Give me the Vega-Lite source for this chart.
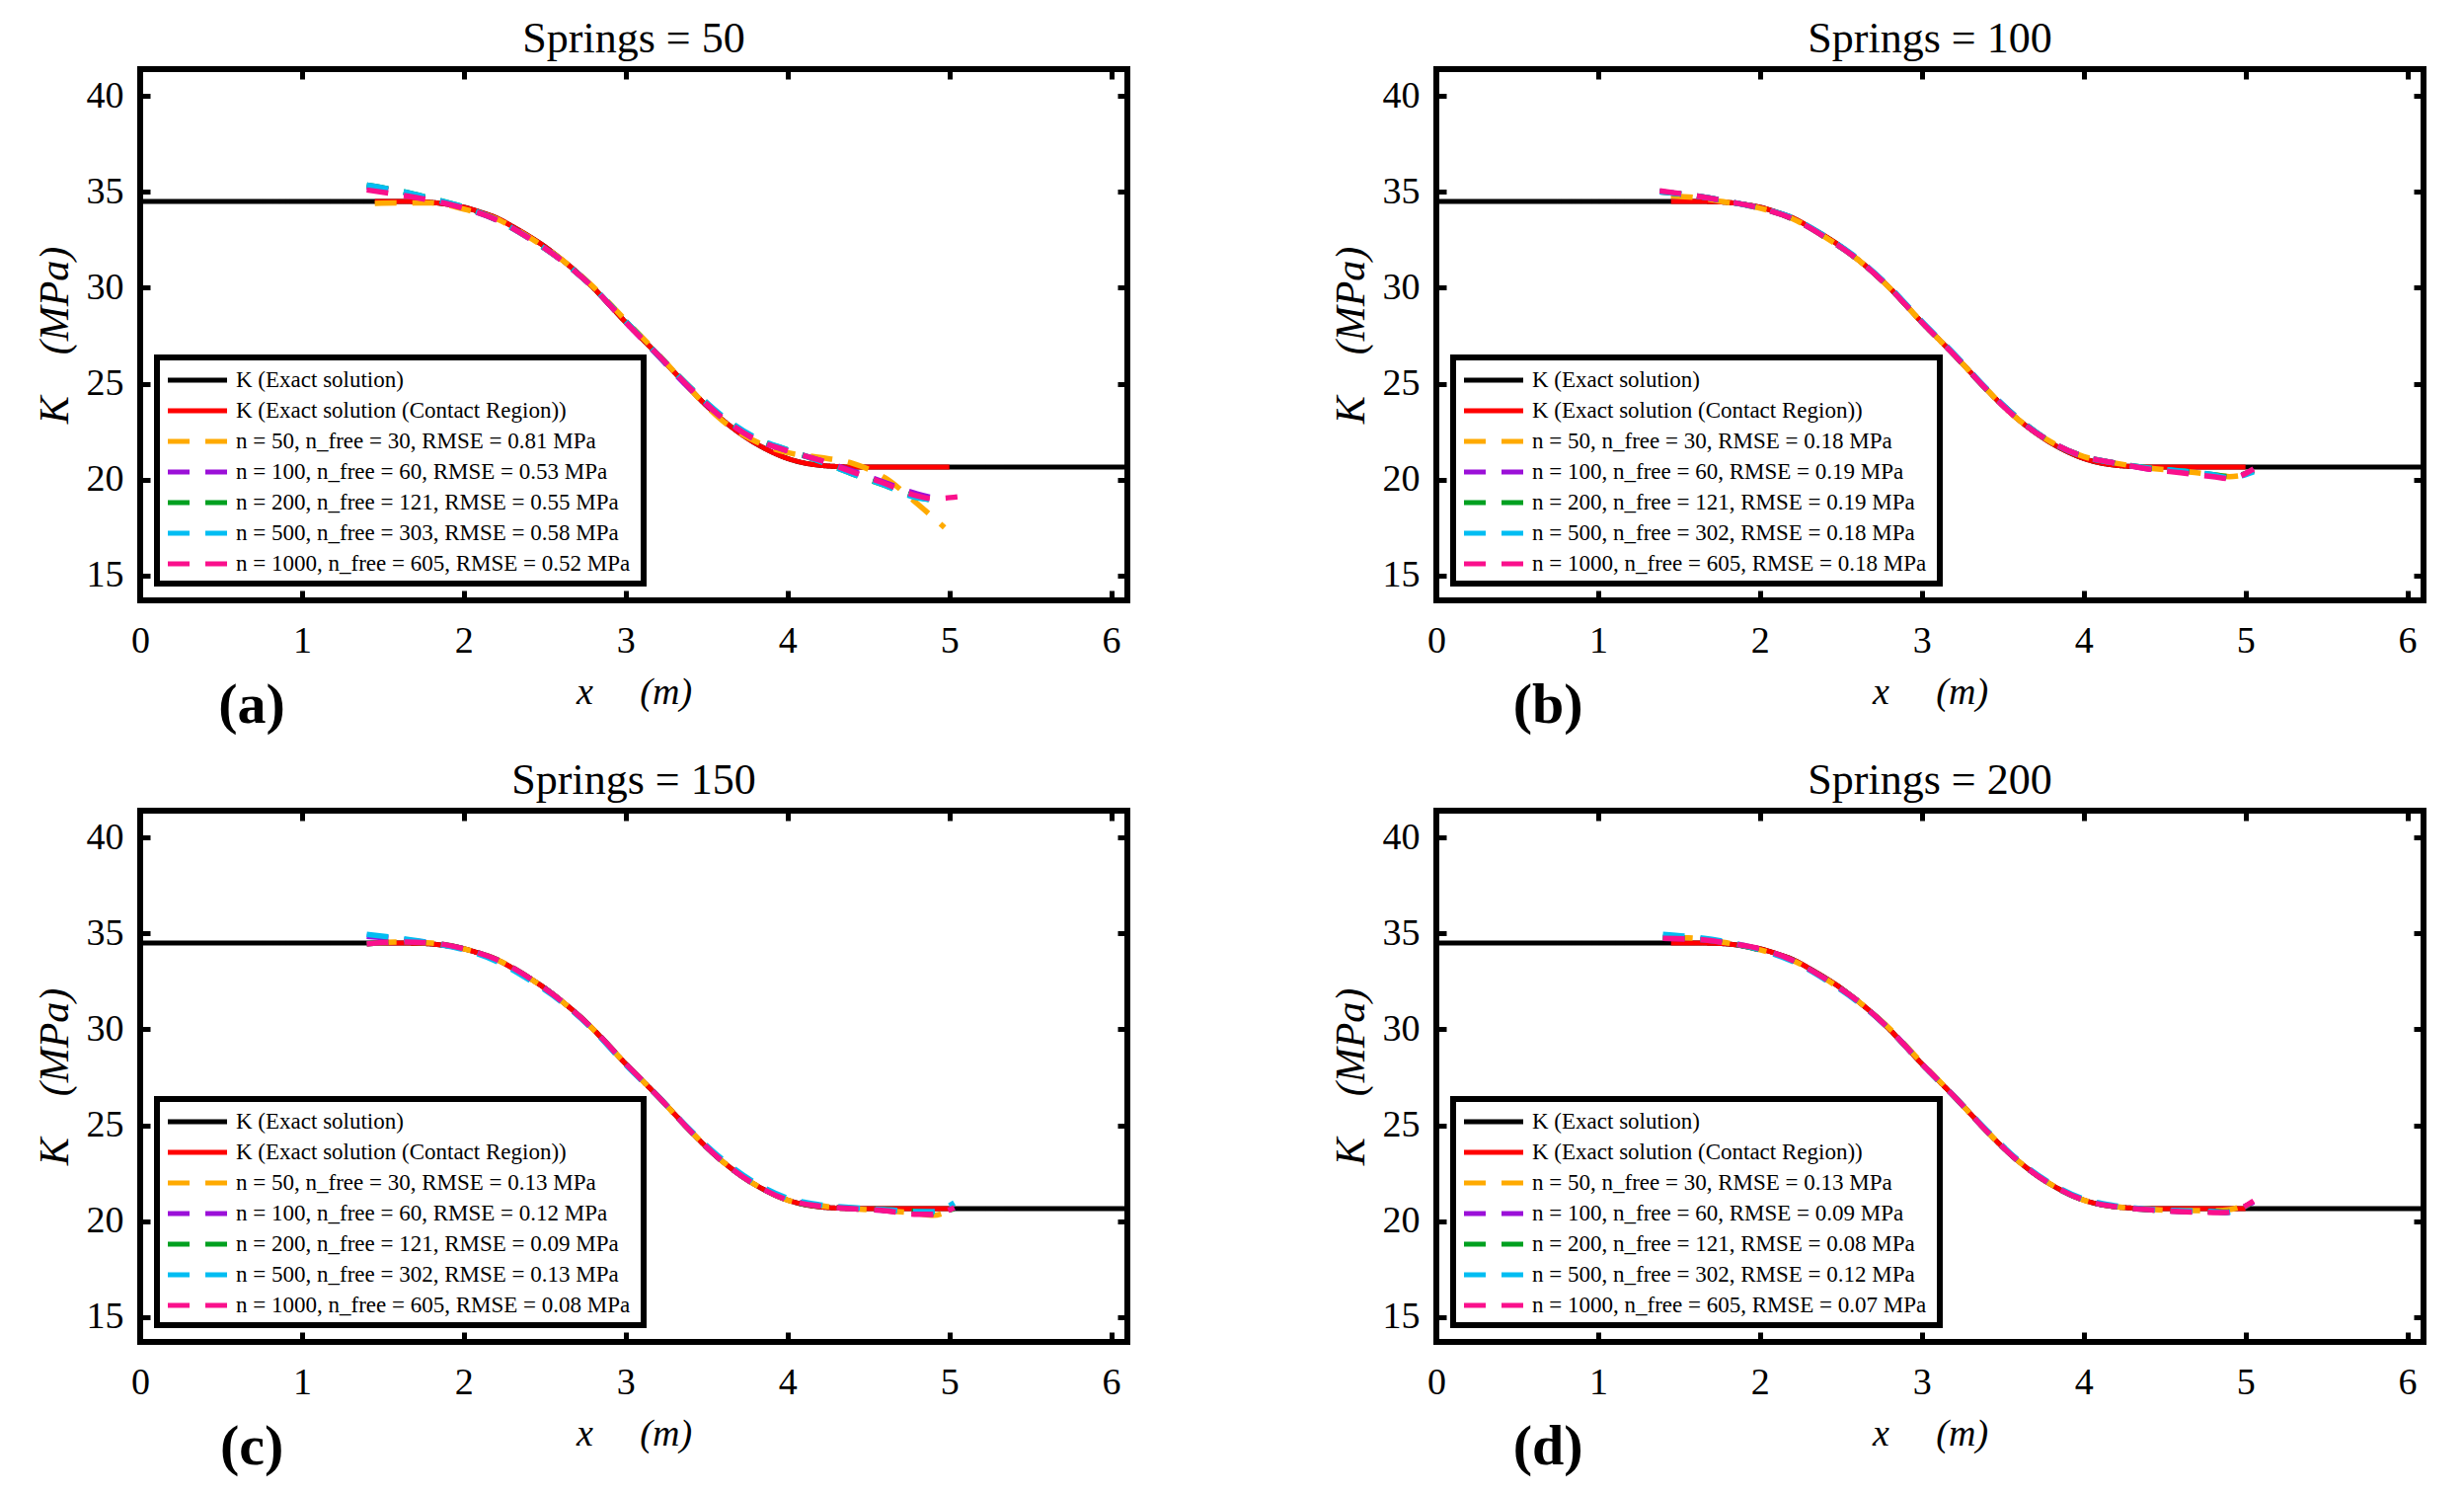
{
  "$schema": "https://vega.github.io/schema/vega-lite/v6.json",
  "background": "white",
  "padding": {"left": 31, "top": 14, "right": 30, "bottom": 10},
  "columns": 2,
  "spacing": {"row": 18, "column": 189},
  "resolve": {"scale": {"color": "independent", "strokeDash": "independent"}},
  "datasets": {
    "ex": [
      {"s": "exact", "x": 0, "k": 34.5}, {"s": "exact", "x": 1.6, "k": 34.5}, {"s": "exact", "x": 1.7, "k": 34.49},
      {"s": "exact", "x": 1.8, "k": 34.45}, {"s": "exact", "x": 1.9, "k": 34.35}, {"s": "exact", "x": 2.0, "k": 34.2},
      {"s": "exact", "x": 2.1, "k": 33.95}, {"s": "exact", "x": 2.2, "k": 33.65}, {"s": "exact", "x": 2.3, "k": 33.2},
      {"s": "exact", "x": 2.4, "k": 32.7}, {"s": "exact", "x": 2.5, "k": 32.15}, {"s": "exact", "x": 2.6, "k": 31.5},
      {"s": "exact", "x": 2.7, "k": 30.8}, {"s": "exact", "x": 2.8, "k": 30.0}, {"s": "exact", "x": 2.9, "k": 29.1},
      {"s": "exact", "x": 3.0, "k": 28.2}, {"s": "exact", "x": 3.1, "k": 27.35}, {"s": "exact", "x": 3.2, "k": 26.5},
      {"s": "exact", "x": 3.3, "k": 25.6}, {"s": "exact", "x": 3.4, "k": 24.7}, {"s": "exact", "x": 3.5, "k": 23.85},
      {"s": "exact", "x": 3.6, "k": 23.1}, {"s": "exact", "x": 3.7, "k": 22.45}, {"s": "exact", "x": 3.8, "k": 21.9},
      {"s": "exact", "x": 3.9, "k": 21.45}, {"s": "exact", "x": 4.0, "k": 21.1}, {"s": "exact", "x": 4.1, "k": 20.87},
      {"s": "exact", "x": 4.2, "k": 20.74}, {"s": "exact", "x": 4.3, "k": 20.68}, {"s": "exact", "x": 4.4, "k": 20.65},
      {"s": "exact", "x": 4.6, "k": 20.65}, {"s": "exact", "x": 6.1, "k": 20.65},
      {"s": "contact", "x": 1.45, "k": 34.5}, {"s": "contact", "x": 1.6, "k": 34.5}, {"s": "contact", "x": 1.7, "k": 34.49},
      {"s": "contact", "x": 1.8, "k": 34.45}, {"s": "contact", "x": 1.9, "k": 34.35}, {"s": "contact", "x": 2.0, "k": 34.2},
      {"s": "contact", "x": 2.1, "k": 33.95}, {"s": "contact", "x": 2.2, "k": 33.65}, {"s": "contact", "x": 2.3, "k": 33.2},
      {"s": "contact", "x": 2.4, "k": 32.7}, {"s": "contact", "x": 2.5, "k": 32.15}, {"s": "contact", "x": 2.6, "k": 31.5},
      {"s": "contact", "x": 2.7, "k": 30.8}, {"s": "contact", "x": 2.8, "k": 30.0}, {"s": "contact", "x": 2.9, "k": 29.1},
      {"s": "contact", "x": 3.0, "k": 28.2}, {"s": "contact", "x": 3.1, "k": 27.35}, {"s": "contact", "x": 3.2, "k": 26.5},
      {"s": "contact", "x": 3.3, "k": 25.6}, {"s": "contact", "x": 3.4, "k": 24.7}, {"s": "contact", "x": 3.5, "k": 23.85},
      {"s": "contact", "x": 3.6, "k": 23.1}, {"s": "contact", "x": 3.7, "k": 22.45}, {"s": "contact", "x": 3.8, "k": 21.9},
      {"s": "contact", "x": 3.9, "k": 21.45}, {"s": "contact", "x": 4.0, "k": 21.1}, {"s": "contact", "x": 4.1, "k": 20.87},
      {"s": "contact", "x": 4.2, "k": 20.74}, {"s": "contact", "x": 4.3, "k": 20.68}, {"s": "contact", "x": 4.4, "k": 20.65},
      {"s": "contact", "x": 4.6, "k": 20.65}, {"s": "contact", "x": 5.0, "k": 20.65}
    ],
    "a": [
      {"s": "n50", "x": 1.45, "k": 34.4}, {"s": "n50", "x": 1.6, "k": 34.42}, {"s": "n50", "x": 1.8, "k": 34.42}, {"s": "n50", "x": 2.0, "k": 34.1},
      {"s": "n50", "x": 2.2, "k": 33.6}, {"s": "n50", "x": 2.4, "k": 32.65}, {"s": "n50", "x": 2.6, "k": 31.5}, {"s": "n50", "x": 2.8, "k": 30.05},
      {"s": "n50", "x": 3.0, "k": 28.3}, {"s": "n50", "x": 3.2, "k": 26.55}, {"s": "n50", "x": 3.4, "k": 24.7}, {"s": "n50", "x": 3.6, "k": 23.05},
      {"s": "n50", "x": 3.8, "k": 22.0}, {"s": "n50", "x": 4.0, "k": 21.4}, {"s": "n50", "x": 4.2, "k": 21.15}, {"s": "n50", "x": 4.4, "k": 20.85},
      {"s": "n50", "x": 4.6, "k": 20.1}, {"s": "n50", "x": 4.8, "k": 18.75}, {"s": "n50", "x": 4.97, "k": 17.5},
      {"s": "n100", "x": 1.4, "k": 35.25}, {"s": "n100", "x": 1.6, "k": 35.0}, {"s": "n100", "x": 1.8, "k": 34.6}, {"s": "n100", "x": 2.0, "k": 34.15},
      {"s": "n100", "x": 2.2, "k": 33.55}, {"s": "n100", "x": 2.4, "k": 32.6}, {"s": "n100", "x": 2.6, "k": 31.45}, {"s": "n100", "x": 2.8, "k": 30.0},
      {"s": "n100", "x": 3.0, "k": 28.2}, {"s": "n100", "x": 3.2, "k": 26.45}, {"s": "n100", "x": 3.4, "k": 24.7}, {"s": "n100", "x": 3.6, "k": 23.2},
      {"s": "n100", "x": 3.8, "k": 22.1}, {"s": "n100", "x": 4.0, "k": 21.5}, {"s": "n100", "x": 4.2, "k": 21.0}, {"s": "n100", "x": 4.4, "k": 20.45},
      {"s": "n100", "x": 4.6, "k": 19.85}, {"s": "n100", "x": 4.8, "k": 19.25}, {"s": "n100", "x": 4.9, "k": 19.05},
      {"s": "n200", "x": 1.4, "k": 35.35}, {"s": "n200", "x": 1.6, "k": 35.05}, {"s": "n200", "x": 1.8, "k": 34.65}, {"s": "n200", "x": 2.0, "k": 34.2},
      {"s": "n200", "x": 2.2, "k": 33.55}, {"s": "n200", "x": 2.4, "k": 32.6}, {"s": "n200", "x": 2.6, "k": 31.45}, {"s": "n200", "x": 2.8, "k": 30.0},
      {"s": "n200", "x": 3.0, "k": 28.25}, {"s": "n200", "x": 3.2, "k": 26.5}, {"s": "n200", "x": 3.4, "k": 24.8}, {"s": "n200", "x": 3.6, "k": 23.25},
      {"s": "n200", "x": 3.8, "k": 22.15}, {"s": "n200", "x": 4.0, "k": 21.55}, {"s": "n200", "x": 4.2, "k": 20.95}, {"s": "n200", "x": 4.4, "k": 20.3},
      {"s": "n200", "x": 4.6, "k": 19.7}, {"s": "n200", "x": 4.8, "k": 19.1}, {"s": "n200", "x": 4.88, "k": 18.95},
      {"s": "n500", "x": 1.4, "k": 35.35}, {"s": "n500", "x": 1.6, "k": 35.05}, {"s": "n500", "x": 1.8, "k": 34.65}, {"s": "n500", "x": 2.0, "k": 34.2},
      {"s": "n500", "x": 2.2, "k": 33.55}, {"s": "n500", "x": 2.4, "k": 32.6}, {"s": "n500", "x": 2.6, "k": 31.45}, {"s": "n500", "x": 2.8, "k": 30.0},
      {"s": "n500", "x": 3.0, "k": 28.25}, {"s": "n500", "x": 3.2, "k": 26.5}, {"s": "n500", "x": 3.4, "k": 24.8}, {"s": "n500", "x": 3.6, "k": 23.3},
      {"s": "n500", "x": 3.8, "k": 22.2}, {"s": "n500", "x": 4.0, "k": 21.55}, {"s": "n500", "x": 4.2, "k": 20.95}, {"s": "n500", "x": 4.4, "k": 20.3},
      {"s": "n500", "x": 4.6, "k": 19.7}, {"s": "n500", "x": 4.8, "k": 19.05}, {"s": "n500", "x": 4.9, "k": 18.95},
      {"s": "n1000", "x": 1.4, "k": 35.1}, {"s": "n1000", "x": 1.6, "k": 34.85}, {"s": "n1000", "x": 1.8, "k": 34.55}, {"s": "n1000", "x": 2.0, "k": 34.15},
      {"s": "n1000", "x": 2.2, "k": 33.55}, {"s": "n1000", "x": 2.4, "k": 32.6}, {"s": "n1000", "x": 2.6, "k": 31.45}, {"s": "n1000", "x": 2.8, "k": 30.0},
      {"s": "n1000", "x": 3.0, "k": 28.2}, {"s": "n1000", "x": 3.2, "k": 26.5}, {"s": "n1000", "x": 3.4, "k": 24.75}, {"s": "n1000", "x": 3.6, "k": 23.2},
      {"s": "n1000", "x": 3.8, "k": 22.1}, {"s": "n1000", "x": 4.0, "k": 21.5}, {"s": "n1000", "x": 4.2, "k": 21.0}, {"s": "n1000", "x": 4.4, "k": 20.4},
      {"s": "n1000", "x": 4.6, "k": 19.8}, {"s": "n1000", "x": 4.8, "k": 19.15}, {"s": "n1000", "x": 4.9, "k": 19.0}, {"s": "n1000", "x": 5.05, "k": 19.1}
    ],
    "b": [
      {"s": "n50", "x": 1.45, "k": 34.8}, {"s": "n50", "x": 1.6, "k": 34.7}, {"s": "n50", "x": 1.8, "k": 34.45}, {"s": "n50", "x": 2.0, "k": 34.15},
      {"s": "n50", "x": 2.2, "k": 33.6}, {"s": "n50", "x": 2.4, "k": 32.65}, {"s": "n50", "x": 2.6, "k": 31.5}, {"s": "n50", "x": 2.8, "k": 30.0},
      {"s": "n50", "x": 3.0, "k": 28.2}, {"s": "n50", "x": 3.2, "k": 26.5}, {"s": "n50", "x": 3.4, "k": 24.7}, {"s": "n50", "x": 3.6, "k": 23.1},
      {"s": "n50", "x": 3.8, "k": 21.95}, {"s": "n50", "x": 4.0, "k": 21.2}, {"s": "n50", "x": 4.2, "k": 20.85}, {"s": "n50", "x": 4.4, "k": 20.6},
      {"s": "n50", "x": 4.6, "k": 20.45}, {"s": "n50", "x": 4.8, "k": 20.25}, {"s": "n50", "x": 4.9, "k": 20.15}, {"s": "n50", "x": 5.0, "k": 20.25},
      {"s": "n100", "x": 1.38, "k": 35.0}, {"s": "n100", "x": 1.6, "k": 34.8}, {"s": "n100", "x": 1.8, "k": 34.5}, {"s": "n100", "x": 2.0, "k": 34.15},
      {"s": "n100", "x": 2.2, "k": 33.6}, {"s": "n100", "x": 2.4, "k": 32.65}, {"s": "n100", "x": 2.6, "k": 31.5}, {"s": "n100", "x": 2.8, "k": 30.0},
      {"s": "n100", "x": 3.0, "k": 28.2}, {"s": "n100", "x": 3.2, "k": 26.5}, {"s": "n100", "x": 3.4, "k": 24.7}, {"s": "n100", "x": 3.6, "k": 23.15},
      {"s": "n100", "x": 3.8, "k": 21.95}, {"s": "n100", "x": 4.0, "k": 21.2}, {"s": "n100", "x": 4.2, "k": 20.85}, {"s": "n100", "x": 4.4, "k": 20.55},
      {"s": "n100", "x": 4.6, "k": 20.4}, {"s": "n100", "x": 4.8, "k": 20.2}, {"s": "n100", "x": 4.9, "k": 20.1}, {"s": "n100", "x": 5.05, "k": 20.5},
      {"s": "n200", "x": 1.38, "k": 35.0}, {"s": "n200", "x": 1.6, "k": 34.8}, {"s": "n200", "x": 1.8, "k": 34.5}, {"s": "n200", "x": 2.0, "k": 34.15},
      {"s": "n200", "x": 2.2, "k": 33.6}, {"s": "n200", "x": 2.4, "k": 32.65}, {"s": "n200", "x": 2.6, "k": 31.5}, {"s": "n200", "x": 2.8, "k": 30.0},
      {"s": "n200", "x": 3.0, "k": 28.2}, {"s": "n200", "x": 3.2, "k": 26.5}, {"s": "n200", "x": 3.4, "k": 24.7}, {"s": "n200", "x": 3.6, "k": 23.15},
      {"s": "n200", "x": 3.8, "k": 21.95}, {"s": "n200", "x": 4.0, "k": 21.2}, {"s": "n200", "x": 4.2, "k": 20.85}, {"s": "n200", "x": 4.4, "k": 20.6},
      {"s": "n200", "x": 4.6, "k": 20.45}, {"s": "n200", "x": 4.8, "k": 20.25}, {"s": "n200", "x": 4.9, "k": 20.15}, {"s": "n200", "x": 5.05, "k": 20.45},
      {"s": "n500", "x": 1.38, "k": 35.0}, {"s": "n500", "x": 1.6, "k": 34.8}, {"s": "n500", "x": 1.8, "k": 34.5}, {"s": "n500", "x": 2.0, "k": 34.15},
      {"s": "n500", "x": 2.2, "k": 33.65}, {"s": "n500", "x": 2.4, "k": 32.7}, {"s": "n500", "x": 2.6, "k": 31.55}, {"s": "n500", "x": 2.8, "k": 30.05},
      {"s": "n500", "x": 3.0, "k": 28.25}, {"s": "n500", "x": 3.2, "k": 26.55}, {"s": "n500", "x": 3.4, "k": 24.75}, {"s": "n500", "x": 3.6, "k": 23.15},
      {"s": "n500", "x": 3.8, "k": 21.95}, {"s": "n500", "x": 4.0, "k": 21.2}, {"s": "n500", "x": 4.2, "k": 20.85}, {"s": "n500", "x": 4.4, "k": 20.6},
      {"s": "n500", "x": 4.6, "k": 20.45}, {"s": "n500", "x": 4.8, "k": 20.25}, {"s": "n500", "x": 4.9, "k": 20.1}, {"s": "n500", "x": 5.05, "k": 20.4},
      {"s": "n1000", "x": 1.38, "k": 35.05}, {"s": "n1000", "x": 1.6, "k": 34.8}, {"s": "n1000", "x": 1.8, "k": 34.5}, {"s": "n1000", "x": 2.0, "k": 34.15},
      {"s": "n1000", "x": 2.2, "k": 33.6}, {"s": "n1000", "x": 2.4, "k": 32.65}, {"s": "n1000", "x": 2.6, "k": 31.5}, {"s": "n1000", "x": 2.8, "k": 30.0},
      {"s": "n1000", "x": 3.0, "k": 28.2}, {"s": "n1000", "x": 3.2, "k": 26.5}, {"s": "n1000", "x": 3.4, "k": 24.7}, {"s": "n1000", "x": 3.6, "k": 23.1},
      {"s": "n1000", "x": 3.8, "k": 21.95}, {"s": "n1000", "x": 4.0, "k": 21.2}, {"s": "n1000", "x": 4.2, "k": 20.85}, {"s": "n1000", "x": 4.4, "k": 20.55},
      {"s": "n1000", "x": 4.6, "k": 20.35}, {"s": "n1000", "x": 4.8, "k": 20.15}, {"s": "n1000", "x": 4.9, "k": 20.05}, {"s": "n1000", "x": 5.05, "k": 20.55}
    ],
    "c": [
      {"s": "n50", "x": 1.45, "k": 34.5}, {"s": "n50", "x": 1.6, "k": 34.55}, {"s": "n50", "x": 1.8, "k": 34.5}, {"s": "n50", "x": 2.0, "k": 34.2},
      {"s": "n50", "x": 2.2, "k": 33.65}, {"s": "n50", "x": 2.4, "k": 32.7}, {"s": "n50", "x": 2.6, "k": 31.5}, {"s": "n50", "x": 2.8, "k": 30.0},
      {"s": "n50", "x": 3.0, "k": 28.2}, {"s": "n50", "x": 3.2, "k": 26.5}, {"s": "n50", "x": 3.4, "k": 24.7}, {"s": "n50", "x": 3.6, "k": 23.1},
      {"s": "n50", "x": 3.8, "k": 21.9}, {"s": "n50", "x": 4.0, "k": 21.1}, {"s": "n50", "x": 4.2, "k": 20.8}, {"s": "n50", "x": 4.4, "k": 20.65},
      {"s": "n50", "x": 4.6, "k": 20.55}, {"s": "n50", "x": 4.8, "k": 20.4}, {"s": "n50", "x": 4.9, "k": 20.3}, {"s": "n50", "x": 5.0, "k": 20.55},
      {"s": "n100", "x": 1.4, "k": 34.85}, {"s": "n100", "x": 1.6, "k": 34.7}, {"s": "n100", "x": 1.8, "k": 34.5}, {"s": "n100", "x": 2.0, "k": 34.2},
      {"s": "n100", "x": 2.2, "k": 33.6}, {"s": "n100", "x": 2.4, "k": 32.7}, {"s": "n100", "x": 2.6, "k": 31.5}, {"s": "n100", "x": 2.8, "k": 30.0},
      {"s": "n100", "x": 3.0, "k": 28.2}, {"s": "n100", "x": 3.2, "k": 26.5}, {"s": "n100", "x": 3.4, "k": 24.7}, {"s": "n100", "x": 3.6, "k": 23.1},
      {"s": "n100", "x": 3.8, "k": 21.9}, {"s": "n100", "x": 4.0, "k": 21.15}, {"s": "n100", "x": 4.2, "k": 20.8}, {"s": "n100", "x": 4.4, "k": 20.65},
      {"s": "n100", "x": 4.6, "k": 20.55}, {"s": "n100", "x": 4.8, "k": 20.4}, {"s": "n100", "x": 4.9, "k": 20.35}, {"s": "n100", "x": 5.03, "k": 20.7},
      {"s": "n200", "x": 1.4, "k": 34.45}, {"s": "n200", "x": 1.6, "k": 34.55}, {"s": "n200", "x": 1.8, "k": 34.5}, {"s": "n200", "x": 2.0, "k": 34.2},
      {"s": "n200", "x": 2.2, "k": 33.65}, {"s": "n200", "x": 2.4, "k": 32.7}, {"s": "n200", "x": 2.6, "k": 31.5}, {"s": "n200", "x": 2.8, "k": 30.0},
      {"s": "n200", "x": 3.0, "k": 28.2}, {"s": "n200", "x": 3.2, "k": 26.5}, {"s": "n200", "x": 3.4, "k": 24.7}, {"s": "n200", "x": 3.6, "k": 23.1},
      {"s": "n200", "x": 3.8, "k": 21.9}, {"s": "n200", "x": 4.0, "k": 21.1}, {"s": "n200", "x": 4.2, "k": 20.78}, {"s": "n200", "x": 4.4, "k": 20.68},
      {"s": "n200", "x": 4.6, "k": 20.6}, {"s": "n200", "x": 4.8, "k": 20.5}, {"s": "n200", "x": 4.9, "k": 20.45}, {"s": "n200", "x": 5.03, "k": 20.65},
      {"s": "n500", "x": 1.4, "k": 34.95}, {"s": "n500", "x": 1.6, "k": 34.75}, {"s": "n500", "x": 1.8, "k": 34.5}, {"s": "n500", "x": 2.0, "k": 34.15},
      {"s": "n500", "x": 2.2, "k": 33.55}, {"s": "n500", "x": 2.4, "k": 32.6}, {"s": "n500", "x": 2.6, "k": 31.45}, {"s": "n500", "x": 2.8, "k": 29.95},
      {"s": "n500", "x": 3.0, "k": 28.15}, {"s": "n500", "x": 3.2, "k": 26.5}, {"s": "n500", "x": 3.4, "k": 24.75}, {"s": "n500", "x": 3.6, "k": 23.2},
      {"s": "n500", "x": 3.8, "k": 22.0}, {"s": "n500", "x": 4.0, "k": 21.2}, {"s": "n500", "x": 4.2, "k": 20.85}, {"s": "n500", "x": 4.4, "k": 20.7},
      {"s": "n500", "x": 4.6, "k": 20.6}, {"s": "n500", "x": 4.8, "k": 20.5}, {"s": "n500", "x": 4.9, "k": 20.5}, {"s": "n500", "x": 5.03, "k": 20.95},
      {"s": "n1000", "x": 1.4, "k": 34.45}, {"s": "n1000", "x": 1.6, "k": 34.55}, {"s": "n1000", "x": 1.8, "k": 34.5}, {"s": "n1000", "x": 2.0, "k": 34.2},
      {"s": "n1000", "x": 2.2, "k": 33.65}, {"s": "n1000", "x": 2.4, "k": 32.7}, {"s": "n1000", "x": 2.6, "k": 31.5}, {"s": "n1000", "x": 2.8, "k": 30.0},
      {"s": "n1000", "x": 3.0, "k": 28.2}, {"s": "n1000", "x": 3.2, "k": 26.5}, {"s": "n1000", "x": 3.4, "k": 24.7}, {"s": "n1000", "x": 3.6, "k": 23.1},
      {"s": "n1000", "x": 3.8, "k": 21.9}, {"s": "n1000", "x": 4.0, "k": 21.1}, {"s": "n1000", "x": 4.2, "k": 20.78}, {"s": "n1000", "x": 4.4, "k": 20.65},
      {"s": "n1000", "x": 4.6, "k": 20.55}, {"s": "n1000", "x": 4.8, "k": 20.35}, {"s": "n1000", "x": 4.9, "k": 20.35}, {"s": "n1000", "x": 5.03, "k": 20.7}
    ],
    "d": [
      {"s": "n50", "x": 1.45, "k": 34.8}, {"s": "n50", "x": 1.6, "k": 34.75}, {"s": "n50", "x": 1.8, "k": 34.5}, {"s": "n50", "x": 2.0, "k": 34.15},
      {"s": "n50", "x": 2.2, "k": 33.6}, {"s": "n50", "x": 2.4, "k": 32.65}, {"s": "n50", "x": 2.6, "k": 31.5}, {"s": "n50", "x": 2.8, "k": 30.05},
      {"s": "n50", "x": 3.0, "k": 28.25}, {"s": "n50", "x": 3.2, "k": 26.5}, {"s": "n50", "x": 3.4, "k": 24.7}, {"s": "n50", "x": 3.6, "k": 23.1},
      {"s": "n50", "x": 3.8, "k": 21.9}, {"s": "n50", "x": 4.0, "k": 21.1}, {"s": "n50", "x": 4.2, "k": 20.75}, {"s": "n50", "x": 4.4, "k": 20.62},
      {"s": "n50", "x": 4.6, "k": 20.55}, {"s": "n50", "x": 4.8, "k": 20.55}, {"s": "n50", "x": 4.9, "k": 20.6}, {"s": "n50", "x": 5.03, "k": 20.95},
      {"s": "n100", "x": 1.4, "k": 34.75}, {"s": "n100", "x": 1.6, "k": 34.7}, {"s": "n100", "x": 1.8, "k": 34.5}, {"s": "n100", "x": 2.0, "k": 34.15},
      {"s": "n100", "x": 2.2, "k": 33.6}, {"s": "n100", "x": 2.4, "k": 32.65}, {"s": "n100", "x": 2.6, "k": 31.5}, {"s": "n100", "x": 2.8, "k": 30.0},
      {"s": "n100", "x": 3.0, "k": 28.2}, {"s": "n100", "x": 3.2, "k": 26.5}, {"s": "n100", "x": 3.4, "k": 24.7}, {"s": "n100", "x": 3.6, "k": 23.1},
      {"s": "n100", "x": 3.8, "k": 21.9}, {"s": "n100", "x": 4.0, "k": 21.1}, {"s": "n100", "x": 4.2, "k": 20.75}, {"s": "n100", "x": 4.4, "k": 20.6},
      {"s": "n100", "x": 4.6, "k": 20.5}, {"s": "n100", "x": 4.8, "k": 20.48}, {"s": "n100", "x": 4.88, "k": 20.45}, {"s": "n100", "x": 5.05, "k": 21.0},
      {"s": "n200", "x": 1.4, "k": 34.8}, {"s": "n200", "x": 1.6, "k": 34.72}, {"s": "n200", "x": 1.8, "k": 34.5}, {"s": "n200", "x": 2.0, "k": 34.15},
      {"s": "n200", "x": 2.2, "k": 33.6}, {"s": "n200", "x": 2.4, "k": 32.65}, {"s": "n200", "x": 2.6, "k": 31.5}, {"s": "n200", "x": 2.8, "k": 30.0},
      {"s": "n200", "x": 3.0, "k": 28.2}, {"s": "n200", "x": 3.2, "k": 26.5}, {"s": "n200", "x": 3.4, "k": 24.7}, {"s": "n200", "x": 3.6, "k": 23.1},
      {"s": "n200", "x": 3.8, "k": 21.9}, {"s": "n200", "x": 4.0, "k": 21.1}, {"s": "n200", "x": 4.2, "k": 20.75}, {"s": "n200", "x": 4.4, "k": 20.6},
      {"s": "n200", "x": 4.6, "k": 20.52}, {"s": "n200", "x": 4.8, "k": 20.5}, {"s": "n200", "x": 4.88, "k": 20.47}, {"s": "n200", "x": 5.03, "k": 20.9},
      {"s": "n500", "x": 1.4, "k": 34.95}, {"s": "n500", "x": 1.6, "k": 34.8}, {"s": "n500", "x": 1.8, "k": 34.55}, {"s": "n500", "x": 2.0, "k": 34.15},
      {"s": "n500", "x": 2.2, "k": 33.55}, {"s": "n500", "x": 2.4, "k": 32.6}, {"s": "n500", "x": 2.6, "k": 31.45}, {"s": "n500", "x": 2.8, "k": 30.0},
      {"s": "n500", "x": 3.0, "k": 28.2}, {"s": "n500", "x": 3.2, "k": 26.5}, {"s": "n500", "x": 3.4, "k": 24.75}, {"s": "n500", "x": 3.6, "k": 23.15},
      {"s": "n500", "x": 3.8, "k": 21.95}, {"s": "n500", "x": 4.0, "k": 21.15}, {"s": "n500", "x": 4.2, "k": 20.8}, {"s": "n500", "x": 4.4, "k": 20.62},
      {"s": "n500", "x": 4.6, "k": 20.55}, {"s": "n500", "x": 4.8, "k": 20.5}, {"s": "n500", "x": 4.88, "k": 20.45}, {"s": "n500", "x": 5.0, "k": 20.8},
      {"s": "n1000", "x": 1.4, "k": 34.75}, {"s": "n1000", "x": 1.6, "k": 34.7}, {"s": "n1000", "x": 1.8, "k": 34.5}, {"s": "n1000", "x": 2.0, "k": 34.2},
      {"s": "n1000", "x": 2.2, "k": 33.6}, {"s": "n1000", "x": 2.4, "k": 32.65}, {"s": "n1000", "x": 2.6, "k": 31.5}, {"s": "n1000", "x": 2.8, "k": 30.0},
      {"s": "n1000", "x": 3.0, "k": 28.2}, {"s": "n1000", "x": 3.2, "k": 26.5}, {"s": "n1000", "x": 3.4, "k": 24.7}, {"s": "n1000", "x": 3.6, "k": 23.1},
      {"s": "n1000", "x": 3.8, "k": 21.9}, {"s": "n1000", "x": 4.0, "k": 21.1}, {"s": "n1000", "x": 4.2, "k": 20.75}, {"s": "n1000", "x": 4.4, "k": 20.6},
      {"s": "n1000", "x": 4.6, "k": 20.5}, {"s": "n1000", "x": 4.8, "k": 20.45}, {"s": "n1000", "x": 4.88, "k": 20.45}, {"s": "n1000", "x": 5.05, "k": 21.05}
    ]
  },
  "concat": [
    {
      "title": "Springs = 50",
      "width": 1000,
      "height": 538,
      "resolve": {"axis": {"x": "independent", "y": "independent"}},
      "layer": [
        {
          "data": {"name": "ex"},
          "mark": {"type": "line", "strokeWidth": 5, "interpolate": "monotone"},
          "encoding": {
            "x": {"field": "x", "type": "quantitative", "scale": {"domain": [0, 6.1], "nice": false},
                  "axis": {"orient": "bottom", "values": [0, 1, 2, 3, 4, 5, 6], "labelPadding": 32, "title": "x\u00a0\u00a0\u00a0\u00a0\u00a0(m)", "titleFontStyle": "italic", "titleFontWeight": "normal", "titleFontSize": 38, "titlePadding": 14}},
            "y": {"field": "k", "type": "quantitative", "scale": {"domain": [13.7, 41.4], "nice": false, "zero": false},
                  "axis": {"orient": "left", "values": [15, 20, 25, 30, 35, 40], "labelPadding": 27, "title": "K\u00a0\u00a0\u00a0\u00a0(MPa)", "titleFontStyle": "italic", "titleFontWeight": "normal", "titleFontSize": 42, "titlePadding": 10}},
            "color": {"field": "s", "type": "nominal", "sort": null,
                      "scale": {"domain": ["exact", "contact", "n50", "n100", "n200", "n500", "n1000"], "range": ["#000000", "#FF0000", "#FFAA00", "#9B10D8", "#00A020", "#00BDF2", "#FA108C"]},
                      "legend": {"title": null, "labelExpr": "{'exact': 'K (Exact solution)', 'contact': 'K (Exact solution (Contact Region))', 'n50': 'n = 50, n_free = 30, RMSE = 0.81  MPa', 'n100': 'n = 100, n_free = 60, RMSE = 0.53  MPa', 'n200': 'n = 200, n_free = 121, RMSE = 0.55  MPa', 'n500': 'n = 500, n_free = 303, RMSE = 0.58  MPa', 'n1000': 'n = 1000, n_free = 605, RMSE = 0.52  MPa'}[datum.label]"}},
            "strokeDash": {"field": "s", "type": "nominal", "sort": null,
                      "scale": {"domain": ["exact", "contact", "n50", "n100", "n200", "n500", "n1000"], "range": [[1, 0], [1, 0], [22, 16], [22, 16], [22, 16], [22, 16], [22, 16]]},
                      "legend": {"title": null, "labelExpr": "{'exact': 'K (Exact solution)', 'contact': 'K (Exact solution (Contact Region))', 'n50': 'n = 50, n_free = 30, RMSE = 0.81  MPa', 'n100': 'n = 100, n_free = 60, RMSE = 0.53  MPa', 'n200': 'n = 200, n_free = 121, RMSE = 0.55  MPa', 'n500': 'n = 500, n_free = 303, RMSE = 0.58  MPa', 'n1000': 'n = 1000, n_free = 605, RMSE = 0.52  MPa'}[datum.label]"}}
          }
        },
        {
          "data": {"name": "a"},
          "mark": {"type": "line", "strokeWidth": 5.5, "interpolate": "monotone"},
          "encoding": {
            "x": {"field": "x", "type": "quantitative", "axis": {"orient": "top", "values": [0, 1, 2, 3, 4, 5, 6], "labels": false, "title": null}},
            "y": {"field": "k", "type": "quantitative", "axis": {"orient": "right", "values": [15, 20, 25, 30, 35, 40], "labels": false, "title": null}},
            "color": {"field": "s", "type": "nominal", "sort": null},
            "strokeDash": {"field": "s", "type": "nominal", "sort": null}
          }
        },
        {
          "data": {"values": [{"x": 0.69, "k": 8.2, "t": "(a)"}]},
          "mark": {"type": "text", "font": "Liberation Serif", "fontSize": 58, "fontWeight": "bold", "baseline": "middle", "align": "center", "color": "black"},
          "encoding": {
            "x": {"field": "x", "type": "quantitative", "axis": null},
            "y": {"field": "k", "type": "quantitative", "axis": null},
            "text": {"field": "t"}
          }
        }
      ]
    },
    {
      "title": "Springs = 100",
      "width": 1000,
      "height": 538,
      "resolve": {"axis": {"x": "independent", "y": "independent"}},
      "layer": [
        {
          "data": {"name": "ex"},
          "mark": {"type": "line", "strokeWidth": 5, "interpolate": "monotone"},
          "encoding": {
            "x": {"field": "x", "type": "quantitative", "scale": {"domain": [0, 6.1], "nice": false},
                  "axis": {"orient": "bottom", "values": [0, 1, 2, 3, 4, 5, 6], "labelPadding": 32, "title": "x\u00a0\u00a0\u00a0\u00a0\u00a0(m)", "titleFontStyle": "italic", "titleFontWeight": "normal", "titleFontSize": 38, "titlePadding": 14}},
            "y": {"field": "k", "type": "quantitative", "scale": {"domain": [13.7, 41.4], "nice": false, "zero": false},
                  "axis": {"orient": "left", "values": [15, 20, 25, 30, 35, 40], "labelPadding": 27, "title": "K\u00a0\u00a0\u00a0\u00a0(MPa)", "titleFontStyle": "italic", "titleFontWeight": "normal", "titleFontSize": 42, "titlePadding": 10}},
            "color": {"field": "s", "type": "nominal", "sort": null,
                      "scale": {"domain": ["exact", "contact", "n50", "n100", "n200", "n500", "n1000"], "range": ["#000000", "#FF0000", "#FFAA00", "#9B10D8", "#00A020", "#00BDF2", "#FA108C"]},
                      "legend": {"title": null, "labelExpr": "{'exact': 'K (Exact solution)', 'contact': 'K (Exact solution (Contact Region))', 'n50': 'n = 50, n_free = 30, RMSE = 0.18  MPa', 'n100': 'n = 100, n_free = 60, RMSE = 0.19  MPa', 'n200': 'n = 200, n_free = 121, RMSE = 0.19  MPa', 'n500': 'n = 500, n_free = 302, RMSE = 0.18  MPa', 'n1000': 'n = 1000, n_free = 605, RMSE = 0.18  MPa'}[datum.label]"}},
            "strokeDash": {"field": "s", "type": "nominal", "sort": null,
                      "scale": {"domain": ["exact", "contact", "n50", "n100", "n200", "n500", "n1000"], "range": [[1, 0], [1, 0], [22, 16], [22, 16], [22, 16], [22, 16], [22, 16]]},
                      "legend": {"title": null, "labelExpr": "{'exact': 'K (Exact solution)', 'contact': 'K (Exact solution (Contact Region))', 'n50': 'n = 50, n_free = 30, RMSE = 0.18  MPa', 'n100': 'n = 100, n_free = 60, RMSE = 0.19  MPa', 'n200': 'n = 200, n_free = 121, RMSE = 0.19  MPa', 'n500': 'n = 500, n_free = 302, RMSE = 0.18  MPa', 'n1000': 'n = 1000, n_free = 605, RMSE = 0.18  MPa'}[datum.label]"}}
          }
        },
        {
          "data": {"name": "b"},
          "mark": {"type": "line", "strokeWidth": 5.5, "interpolate": "monotone"},
          "encoding": {
            "x": {"field": "x", "type": "quantitative", "axis": {"orient": "top", "values": [0, 1, 2, 3, 4, 5, 6], "labels": false, "title": null}},
            "y": {"field": "k", "type": "quantitative", "axis": {"orient": "right", "values": [15, 20, 25, 30, 35, 40], "labels": false, "title": null}},
            "color": {"field": "s", "type": "nominal", "sort": null},
            "strokeDash": {"field": "s", "type": "nominal", "sort": null}
          }
        },
        {
          "data": {"values": [{"x": 0.69, "k": 8.2, "t": "(b)"}]},
          "mark": {"type": "text", "font": "Liberation Serif", "fontSize": 58, "fontWeight": "bold", "baseline": "middle", "align": "center", "color": "black"},
          "encoding": {
            "x": {"field": "x", "type": "quantitative", "axis": null},
            "y": {"field": "k", "type": "quantitative", "axis": null},
            "text": {"field": "t"}
          }
        }
      ]
    },
    {
      "title": "Springs = 150",
      "width": 1000,
      "height": 538,
      "resolve": {"axis": {"x": "independent", "y": "independent"}},
      "layer": [
        {
          "data": {"name": "ex"},
          "mark": {"type": "line", "strokeWidth": 5, "interpolate": "monotone"},
          "encoding": {
            "x": {"field": "x", "type": "quantitative", "scale": {"domain": [0, 6.1], "nice": false},
                  "axis": {"orient": "bottom", "values": [0, 1, 2, 3, 4, 5, 6], "labelPadding": 32, "title": "x\u00a0\u00a0\u00a0\u00a0\u00a0(m)", "titleFontStyle": "italic", "titleFontWeight": "normal", "titleFontSize": 38, "titlePadding": 14}},
            "y": {"field": "k", "type": "quantitative", "scale": {"domain": [13.7, 41.4], "nice": false, "zero": false},
                  "axis": {"orient": "left", "values": [15, 20, 25, 30, 35, 40], "labelPadding": 27, "title": "K\u00a0\u00a0\u00a0\u00a0(MPa)", "titleFontStyle": "italic", "titleFontWeight": "normal", "titleFontSize": 42, "titlePadding": 10}},
            "color": {"field": "s", "type": "nominal", "sort": null,
                      "scale": {"domain": ["exact", "contact", "n50", "n100", "n200", "n500", "n1000"], "range": ["#000000", "#FF0000", "#FFAA00", "#9B10D8", "#00A020", "#00BDF2", "#FA108C"]},
                      "legend": {"title": null, "labelExpr": "{'exact': 'K (Exact solution)', 'contact': 'K (Exact solution (Contact Region))', 'n50': 'n = 50, n_free = 30, RMSE = 0.13  MPa', 'n100': 'n = 100, n_free = 60, RMSE = 0.12  MPa', 'n200': 'n = 200, n_free = 121, RMSE = 0.09  MPa', 'n500': 'n = 500, n_free = 302, RMSE = 0.13  MPa', 'n1000': 'n = 1000, n_free = 605, RMSE = 0.08  MPa'}[datum.label]"}},
            "strokeDash": {"field": "s", "type": "nominal", "sort": null,
                      "scale": {"domain": ["exact", "contact", "n50", "n100", "n200", "n500", "n1000"], "range": [[1, 0], [1, 0], [22, 16], [22, 16], [22, 16], [22, 16], [22, 16]]},
                      "legend": {"title": null, "labelExpr": "{'exact': 'K (Exact solution)', 'contact': 'K (Exact solution (Contact Region))', 'n50': 'n = 50, n_free = 30, RMSE = 0.13  MPa', 'n100': 'n = 100, n_free = 60, RMSE = 0.12  MPa', 'n200': 'n = 200, n_free = 121, RMSE = 0.09  MPa', 'n500': 'n = 500, n_free = 302, RMSE = 0.13  MPa', 'n1000': 'n = 1000, n_free = 605, RMSE = 0.08  MPa'}[datum.label]"}}
          }
        },
        {
          "data": {"name": "c"},
          "mark": {"type": "line", "strokeWidth": 5.5, "interpolate": "monotone"},
          "encoding": {
            "x": {"field": "x", "type": "quantitative", "axis": {"orient": "top", "values": [0, 1, 2, 3, 4, 5, 6], "labels": false, "title": null}},
            "y": {"field": "k", "type": "quantitative", "axis": {"orient": "right", "values": [15, 20, 25, 30, 35, 40], "labels": false, "title": null}},
            "color": {"field": "s", "type": "nominal", "sort": null},
            "strokeDash": {"field": "s", "type": "nominal", "sort": null}
          }
        },
        {
          "data": {"values": [{"x": 0.69, "k": 8.2, "t": "(c)"}]},
          "mark": {"type": "text", "font": "Liberation Serif", "fontSize": 58, "fontWeight": "bold", "baseline": "middle", "align": "center", "color": "black"},
          "encoding": {
            "x": {"field": "x", "type": "quantitative", "axis": null},
            "y": {"field": "k", "type": "quantitative", "axis": null},
            "text": {"field": "t"}
          }
        }
      ]
    },
    {
      "title": "Springs = 200",
      "width": 1000,
      "height": 538,
      "resolve": {"axis": {"x": "independent", "y": "independent"}},
      "layer": [
        {
          "data": {"name": "ex"},
          "mark": {"type": "line", "strokeWidth": 5, "interpolate": "monotone"},
          "encoding": {
            "x": {"field": "x", "type": "quantitative", "scale": {"domain": [0, 6.1], "nice": false},
                  "axis": {"orient": "bottom", "values": [0, 1, 2, 3, 4, 5, 6], "labelPadding": 32, "title": "x\u00a0\u00a0\u00a0\u00a0\u00a0(m)", "titleFontStyle": "italic", "titleFontWeight": "normal", "titleFontSize": 38, "titlePadding": 14}},
            "y": {"field": "k", "type": "quantitative", "scale": {"domain": [13.7, 41.4], "nice": false, "zero": false},
                  "axis": {"orient": "left", "values": [15, 20, 25, 30, 35, 40], "labelPadding": 27, "title": "K\u00a0\u00a0\u00a0\u00a0(MPa)", "titleFontStyle": "italic", "titleFontWeight": "normal", "titleFontSize": 42, "titlePadding": 10}},
            "color": {"field": "s", "type": "nominal", "sort": null,
                      "scale": {"domain": ["exact", "contact", "n50", "n100", "n200", "n500", "n1000"], "range": ["#000000", "#FF0000", "#FFAA00", "#9B10D8", "#00A020", "#00BDF2", "#FA108C"]},
                      "legend": {"title": null, "labelExpr": "{'exact': 'K (Exact solution)', 'contact': 'K (Exact solution (Contact Region))', 'n50': 'n = 50, n_free = 30, RMSE = 0.13  MPa', 'n100': 'n = 100, n_free = 60, RMSE = 0.09  MPa', 'n200': 'n = 200, n_free = 121, RMSE = 0.08  MPa', 'n500': 'n = 500, n_free = 302, RMSE = 0.12  MPa', 'n1000': 'n = 1000, n_free = 605, RMSE = 0.07  MPa'}[datum.label]"}},
            "strokeDash": {"field": "s", "type": "nominal", "sort": null,
                      "scale": {"domain": ["exact", "contact", "n50", "n100", "n200", "n500", "n1000"], "range": [[1, 0], [1, 0], [22, 16], [22, 16], [22, 16], [22, 16], [22, 16]]},
                      "legend": {"title": null, "labelExpr": "{'exact': 'K (Exact solution)', 'contact': 'K (Exact solution (Contact Region))', 'n50': 'n = 50, n_free = 30, RMSE = 0.13  MPa', 'n100': 'n = 100, n_free = 60, RMSE = 0.09  MPa', 'n200': 'n = 200, n_free = 121, RMSE = 0.08  MPa', 'n500': 'n = 500, n_free = 302, RMSE = 0.12  MPa', 'n1000': 'n = 1000, n_free = 605, RMSE = 0.07  MPa'}[datum.label]"}}
          }
        },
        {
          "data": {"name": "d"},
          "mark": {"type": "line", "strokeWidth": 5.5, "interpolate": "monotone"},
          "encoding": {
            "x": {"field": "x", "type": "quantitative", "axis": {"orient": "top", "values": [0, 1, 2, 3, 4, 5, 6], "labels": false, "title": null}},
            "y": {"field": "k", "type": "quantitative", "axis": {"orient": "right", "values": [15, 20, 25, 30, 35, 40], "labels": false, "title": null}},
            "color": {"field": "s", "type": "nominal", "sort": null},
            "strokeDash": {"field": "s", "type": "nominal", "sort": null}
          }
        },
        {
          "data": {"values": [{"x": 0.69, "k": 8.2, "t": "(d)"}]},
          "mark": {"type": "text", "font": "Liberation Serif", "fontSize": 58, "fontWeight": "bold", "baseline": "middle", "align": "center", "color": "black"},
          "encoding": {
            "x": {"field": "x", "type": "quantitative", "axis": null},
            "y": {"field": "k", "type": "quantitative", "axis": null},
            "text": {"field": "t"}
          }
        }
      ]
    }
  ],
  "config": {
    "font": "Liberation Serif",
    "view": {"stroke": "black", "strokeWidth": 6},
    "title": {"font": "Liberation Serif", "fontSize": 44, "fontWeight": "normal", "color": "black", "offset": 6},
    "axis": {"grid": false, "domain": false, "tickColor": "black", "tickWidth": 5, "tickSize": -10, "labelFont": "Liberation Serif", "labelFontSize": 38, "labelColor": "black", "labelFlush": false, "titleFont": "Liberation Serif", "titleColor": "black"},
    "legend": {"orient": "bottom-left", "offset": 17, "padding": 8, "strokeColor": "black", "strokeWidth": 6, "fillColor": "white", "symbolType": "M-2.4,0H2.4", "symbolSize": 625, "symbolOffset": 18, "symbolStrokeWidth": 5, "labelFont": "Liberation Serif", "labelFontSize": 23, "labelColor": "black", "labelLimit": 1000, "labelOffset": 24, "rowPadding": 4}
  }
}
